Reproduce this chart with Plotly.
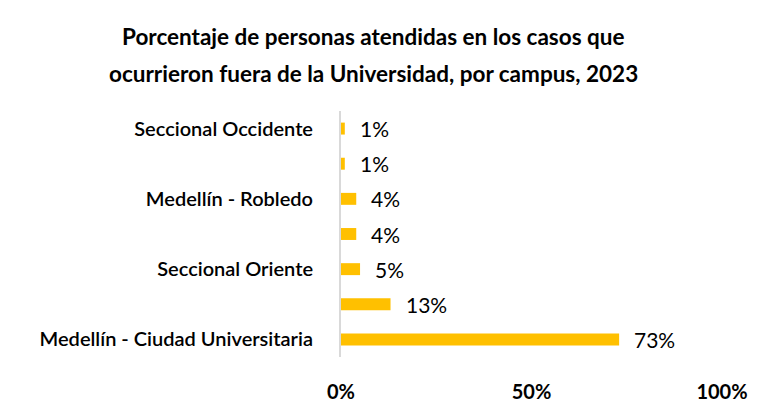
import plotly.graph_objects as go

# Data (bottom to top, as plotly draws horizontal categories)
campus = ["Medellín - Ciudad Universitaria", "Campus 6", "Seccional Oriente",
          "Campus 4", "Medellín - Robledo", "Campus 2", "Seccional Occidente"]
porcentaje = [73, 13, 5, 4, 4, 1, 1]
# only every other campus name is printed on the axis
campus_visible = ["Medellín - Ciudad Universitaria", "Seccional Oriente",
                  "Medellín - Robledo", "Seccional Occidente"]
x_ticks = [0, 50, 100]
x_ticktext = ["0%", "50%", "100%"]
title_lines = ["Porcentaje de personas atendidas en los casos que",
               "ocurrieron fuera de la Universidad, por campus, 2023"]

font_family = "Lato"

fig = go.Figure()
fig.add_trace(go.Bar(x=porcentaje, y=campus, orientation='h',
                     marker=dict(color='#FFC000', line=dict(width=0)),
                     width=0.34, showlegend=False))

# Data labels
for v, c in zip(porcentaje, campus):
    fig.add_annotation(x=v, y=c, text=f"{v}%", showarrow=False, xanchor='left',
                       xshift=13, font=dict(family=font_family, size=21, color='#000000'))

# Title, two lines with wide spacing
for txt, ty in zip(title_lines, [1.301, 1.154]):
    fig.add_annotation(xref='paper', yref='paper', x=0.084, y=ty, text=f"<b>{txt}</b>",
                       showarrow=False, xanchor='center', yanchor='middle',
                       font=dict(family=font_family, size=22.5, color='#000000'))

fig.update_xaxes(range=[0, 100], tickvals=x_ticks, ticktext=x_ticktext,
                 showgrid=False, zeroline=False, showline=False, automargin=False,
                 ticklabelstandoff=21,
                 tickfont=dict(family=font_family, size=20, color='#000000', weight='bold'))
fig.update_yaxes(type='category', categoryorder='array', categoryarray=campus,
                 tickvals=campus_visible, ticktext=campus_visible,
                 showgrid=False, zeroline=False, showline=True, automargin=False,
                 linecolor='#D9D9D9', linewidth=2, ticks='', ticklabelstandoff=22,
                 tickfont=dict(family=font_family, size=20, color='#000000', weight=600))

# page body has an 8px margin, so the figure is 8px smaller than the window
fig.update_layout(width=752, height=399, plot_bgcolor='white', paper_bgcolor='white',
                  margin=dict(l=333, r=38, t=103, b=50), bargap=0.66)

fig.write_html("out.html")
